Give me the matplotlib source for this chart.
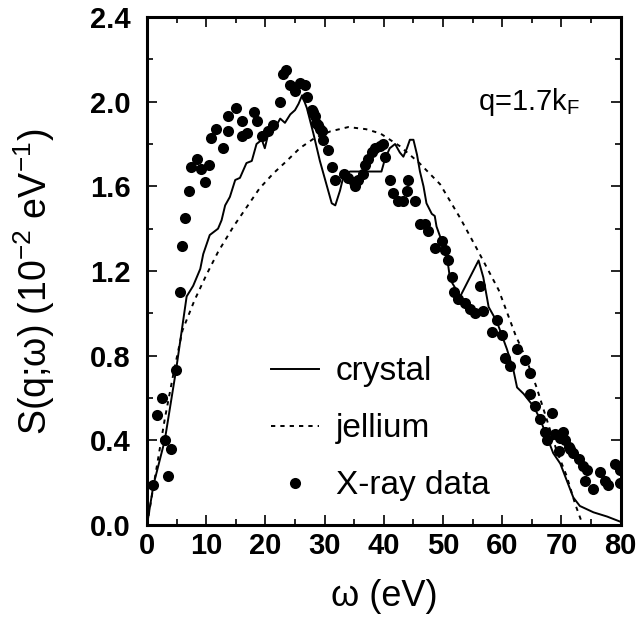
import matplotlib
matplotlib.use("Agg")
import matplotlib.pyplot as plt
from matplotlib.ticker import MultipleLocator

plt.rcParams['font.family'] = ['Liberation Sans', 'DejaVu Sans']
plt.rcParams['mathtext.fontset'] = 'custom'
plt.rcParams['mathtext.rm'] = 'Liberation Sans'
plt.rcParams['mathtext.default'] = 'regular'

# X-ray data points (omega in eV, S in 1e-2/eV)
xray_w = [1.1, 1.7, 2.5, 3.0, 3.6, 4.0, 4.9, 5.5, 5.9, 6.4, 7.1, 7.5, 8.4, 9.1, 9.8,
          10.5, 10.8, 11.7, 12.8, 13.6, 13.6, 15.0, 16.0, 16.1, 16.9, 18.0, 18.5,
          19.5, 20.5, 21.3, 22.5, 23.0, 23.5, 24.2, 25.0, 25.8, 26.7, 27.0, 27.8,
          28.0, 28.4, 28.6, 28.9, 29.2, 29.5, 29.8, 30.6, 31.2, 31.8, 33.2, 34.0,
          34.9, 35.1, 35.7, 36.5, 36.8, 37.4, 38.0, 38.5, 39.4, 39.9, 40.2, 41.0,
          41.6, 42.4, 43.3, 43.9, 44.1, 45.3, 46.1, 47.0, 47.5, 48.6, 49.8, 50.3,
          50.9, 51.5, 51.8, 52.6, 53.7, 54.6, 55.4, 56.3, 56.8, 58.2, 59.1, 59.9,
          60.5, 61.3, 62.5, 63.9, 64.7, 64.7, 65.5, 66.4, 67.2, 67.5, 68.4, 68.9,
          69.5, 69.8, 70.3, 70.6, 71.2, 71.5, 72.0, 72.9, 73.7, 74.0, 74.3, 75.4,
          76.5, 77.4, 77.9, 79.1, 79.9, 79.9]
xray_s = [0.19, 0.52, 0.60, 0.40, 0.23, 0.36, 0.73, 1.10, 1.32, 1.45, 1.58, 1.69, 1.73, 1.68, 1.62,
          1.70, 1.83, 1.87, 1.78, 1.86, 1.93, 1.97, 1.91, 1.84, 1.85, 1.95, 1.91,
          1.84, 1.86, 1.89, 2.00, 2.13, 2.15, 2.08, 2.05, 2.09, 2.08, 2.02, 1.96,
          1.95, 1.93, 1.90, 1.89, 1.87, 1.86, 1.82, 1.77, 1.69, 1.63, 1.66, 1.64,
          1.62, 1.60, 1.63, 1.66, 1.70, 1.73, 1.76, 1.78, 1.79, 1.80, 1.74, 1.63,
          1.57, 1.53, 1.53, 1.58, 1.63, 1.53, 1.42, 1.42, 1.39, 1.31, 1.34, 1.30,
          1.25, 1.17, 1.10, 1.07, 1.05, 1.02, 1.00, 1.13, 1.01, 0.91, 0.97, 0.90,
          0.79, 0.75, 0.83, 0.78, 0.72, 0.62, 0.56, 0.50, 0.44, 0.40, 0.53, 0.43,
          0.35, 0.41, 0.44, 0.40, 0.37, 0.36, 0.34, 0.31, 0.28, 0.21, 0.26, 0.17,
          0.25, 0.21, 0.19, 0.29, 0.26, 0.20]

# crystal calculation
crystal_w = [0, 1.1, 3.0, 4.9, 6.7, 7.8, 9.0, 9.5, 10.6, 12.0, 12.6, 13.2, 14.0, 14.9,
             15.7, 16.8, 17.7, 18.5, 19.4, 19.9, 20.5, 21.3, 22.5, 23.3, 24.2, 25.0,
             25.6, 26.2, 27.0, 28.1, 29.2, 30.4, 31.2, 31.8, 32.6, 33.2, 34.3, 35.7,
             37.1, 38.5, 39.6, 40.2, 41.0, 41.9, 42.7, 43.3, 43.9, 44.4, 45.0, 45.6,
             46.1, 46.7, 47.2, 48.1, 48.6, 48.9, 49.8, 50.6, 51.2, 52.9, 56.0, 56.8,
             57.7, 59.1, 60.8, 61.9, 62.5, 63.6, 65.3, 66.4, 67.5, 68.6, 69.8, 70.9,
             72.0, 73.1, 75.4, 77.7, 80.0]
crystal_s = [0, 0.19, 0.40, 0.73, 1.08, 1.13, 1.21, 1.28, 1.37, 1.40, 1.44, 1.51, 1.55, 1.63,
             1.64, 1.71, 1.72, 1.80, 1.82, 1.78, 1.85, 1.86, 1.92, 1.90, 1.94, 1.96,
             1.99, 2.03, 1.97, 1.85, 1.72, 1.60, 1.52, 1.51, 1.58, 1.65, 1.67, 1.67,
             1.67, 1.67, 1.67, 1.73, 1.78, 1.80, 1.76, 1.74, 1.78, 1.82, 1.82, 1.75,
             1.67, 1.60, 1.52, 1.47, 1.46, 1.41, 1.34, 1.28, 1.16, 1.08, 1.25, 1.17,
             1.03, 0.96, 0.83, 0.73, 0.65, 0.62, 0.56, 0.50, 0.42, 0.34, 0.29, 0.21,
             0.13, 0.09, 0.06, 0.04, 0.015]

# jellium calculation
jellium_w = [0, 1.5, 3.0, 4.5, 6.0, 8.0, 10.0, 12.0, 14.6, 16.8, 19.0, 21.3, 23.6, 25.8,
             28.4, 31.0, 34.0, 37.0, 39.4, 42.7, 46.0, 49.5, 52.9, 56.0, 59.4, 62.2,
             64.1, 65.8, 67.5, 69.2, 70.9, 72.3, 73.6]
jellium_s = [0, 0.25, 0.50, 0.72, 0.92, 1.06, 1.18, 1.29, 1.41, 1.50, 1.59, 1.66, 1.72, 1.78,
             1.83, 1.86, 1.88, 1.87, 1.85, 1.79, 1.71, 1.61, 1.45, 1.29, 1.11, 0.90,
             0.78, 0.65, 0.50, 0.35, 0.23, 0.10, 0.0]

fig = plt.figure(figsize=(6.41, 6.23), dpi=100)
ax = fig.add_axes([0.2293, 0.1573, 0.739, 0.8154])

ax.plot(crystal_w, crystal_s, color='k', lw=1.4, label='crystal')
ax.plot(jellium_w, jellium_s, color='k', lw=1.4, dashes=(2.2, 2.6), label='jellium')
ax.plot(xray_w, xray_s, 'o', color='k', ms=8, mec='none', label='X-ray data')

ax.set_xlim(0, 80)
ax.set_ylim(0, 2.4)
ax.xaxis.set_major_locator(MultipleLocator(10))
ax.xaxis.set_minor_locator(MultipleLocator(5))
ax.yaxis.set_major_locator(MultipleLocator(0.4))
ax.yaxis.set_minor_locator(MultipleLocator(0.2))
ax.yaxis.set_major_formatter(plt.FormatStrFormatter('%.1f'))
ax.tick_params(which='both', direction='in', top=True, right=True, width=1.2)
ax.tick_params(which='major', length=7, labelsize=21)
ax.tick_params(which='minor', length=4)
ax.tick_params(axis='x', pad=5)
ax.tick_params(axis='y', pad=12)
for lab in ax.get_xticklabels() + ax.get_yticklabels():
    lab.set_fontweight('bold')
for sp in ax.spines.values():
    sp.set_linewidth(2.2)

ax.set_xlabel('ω (eV)', fontsize=26, labelpad=14)
ax.set_ylabel('S(q;ω) (10$^{-2}$ eV$^{-1}$)', fontsize=27)
ax.yaxis.set_label_coords(-0.19, 0.478)

ax.text(64.5, 2.0, 'q=1.7k$_F$', fontsize=21, ha='center', va='center')

leg = ax.legend(loc='lower left', bbox_to_anchor=(0.226, 0.014), frameon=False,
                fontsize=24, handlelength=1.45, handletextpad=0.5, labelspacing=0.78,
                borderpad=0)

fig.savefig('out.png', dpi=100)
